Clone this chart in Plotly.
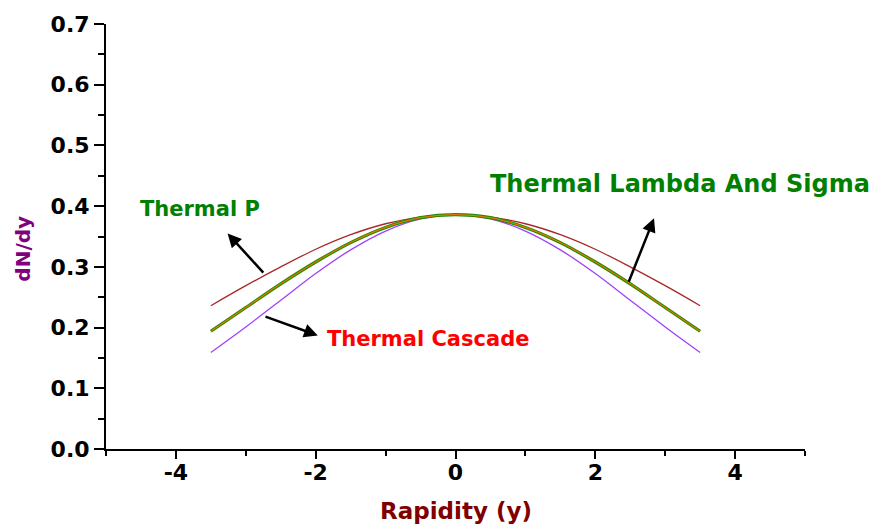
import plotly.graph_objects as go

# Rapidity grid (y) shared by all thermal-model curves
rapidity = [-3.5, -3.0, -2.5, -2.0, -1.5, -1.0, -0.5, 0.0,
            0.5, 1.0, 1.5, 2.0, 2.5, 3.0, 3.5]

# dN/dy for each particle species
dndy_p = [0.236, 0.269, 0.300, 0.329, 0.353, 0.371, 0.382, 0.386,
          0.382, 0.371, 0.353, 0.329, 0.300, 0.269, 0.236]
dndy_lambda = [0.194, 0.233, 0.272, 0.308, 0.340, 0.365, 0.381, 0.386,
               0.381, 0.365, 0.340, 0.308, 0.272, 0.233, 0.194]
dndy_sigma = [0.194, 0.233, 0.272, 0.308, 0.340, 0.365, 0.381, 0.386,
              0.381, 0.365, 0.340, 0.308, 0.272, 0.233, 0.194]
dndy_cascade = [0.159, 0.201, 0.245, 0.289, 0.328, 0.359, 0.379, 0.386,
                0.379, 0.359, 0.328, 0.289, 0.245, 0.201, 0.159]

x_ticks = [-4, -2, 0, 2, 4]
y_ticks = [0.0, 0.1, 0.2, 0.3, 0.4, 0.5, 0.6, 0.7]

FONT = "DejaVu Sans"

fig = go.Figure()
series = [
    ("Thermal P", dndy_p, "#A82828", 1.3),
    ("Thermal Cascade", dndy_cascade, "#A040FF", 1.3),
    ("Thermal Lambda", dndy_lambda, "#1E8A00", 3.2),
    ("Thermal Sigma", dndy_sigma, "#E07A00", 1.2),
]
for name, vals, color, width in series:
    fig.add_trace(go.Scatter(
        x=rapidity, y=vals, name=name, mode="lines",
        line=dict(color=color, width=width, shape="spline"),
    ))

axis_common = dict(
    showgrid=False, zeroline=False, showline=True,
    linecolor="black", linewidth=2, ticks="outside",
    tickcolor="black", tickwidth=2,
    tickfont=dict(family=FONT, size=22, color="black", weight="bold"),
)
fig.update_xaxes(
    range=[-5, 5], tickvals=x_ticks, ticktext=[str(v) for v in x_ticks],
    ticklen=8, ticklabelstandoff=-5,
    minor=dict(tickvals=[-5, -3, -1, 1, 3, 5], ticks="outside",
               ticklen=5, tickwidth=2, tickcolor="black"),
    **axis_common,
)
fig.update_yaxes(
    range=[0, 0.7], tickvals=y_ticks, ticktext=[f"{v:.1f}" for v in y_ticks],
    ticklen=10, ticklabelstandoff=0,
    minor=dict(tickvals=[0.05, 0.15, 0.25, 0.35, 0.45, 0.55, 0.65],
               ticks="outside", ticklen=6, tickwidth=2, tickcolor="black"),
    **axis_common,
)

# Curve labels with pointer arrows
labels = [
    dict(text="Thermal P", x=-4.54, y=0.396, color="#008000", size=21,
         head=(-3.26, 0.355), tail=(-2.73, 0.288)),
    dict(text="Thermal Cascade", x=-1.87, y=0.182, color="#FF0000", size=21,
         head=(-1.97, 0.187), tail=(-2.74, 0.219)),
    dict(text="Thermal Lambda And Sigma", x=0.46, y=0.437, color="#008000", size=24,
         head=(2.84, 0.380), tail=(2.47, 0.273)),
]
for lab in labels:
    fig.add_annotation(
        x=lab["x"], y=lab["y"], xref="x", yref="y", text=lab["text"],
        showarrow=False, xanchor="left", yanchor="middle",
        font=dict(family=FONT, size=lab["size"], color=lab["color"], weight="bold"),
    )
    fig.add_annotation(
        x=lab["head"][0], y=lab["head"][1], ax=lab["tail"][0], ay=lab["tail"][1],
        xref="x", yref="y", axref="x", ayref="y", text="",
        showarrow=True, arrowhead=2, arrowsize=1.1, arrowwidth=2.5,
        arrowcolor="black",
    )

# Axis titles
fig.add_annotation(
    x=0.5, y=0, xref="paper", yref="paper", yshift=-62,
    text="Rapidity (y)", showarrow=False, xanchor="center", yanchor="middle",
    font=dict(family=FONT, size=23, color="#800000", weight="bold"),
)
fig.add_annotation(
    x=0, y=0.33, xref="paper", yref="y", xshift=-83,
    text="dN/dy", showarrow=False, textangle=-90,
    xanchor="center", yanchor="middle",
    font=dict(family=FONT, size=20, color="#800080", weight="bold"),
)

fig.update_layout(
    width=871, height=527,
    margin=dict(l=106, r=66, t=21, b=78),
    paper_bgcolor="white", plot_bgcolor="white",
    showlegend=False,
)

fig.write_html("out.html")
